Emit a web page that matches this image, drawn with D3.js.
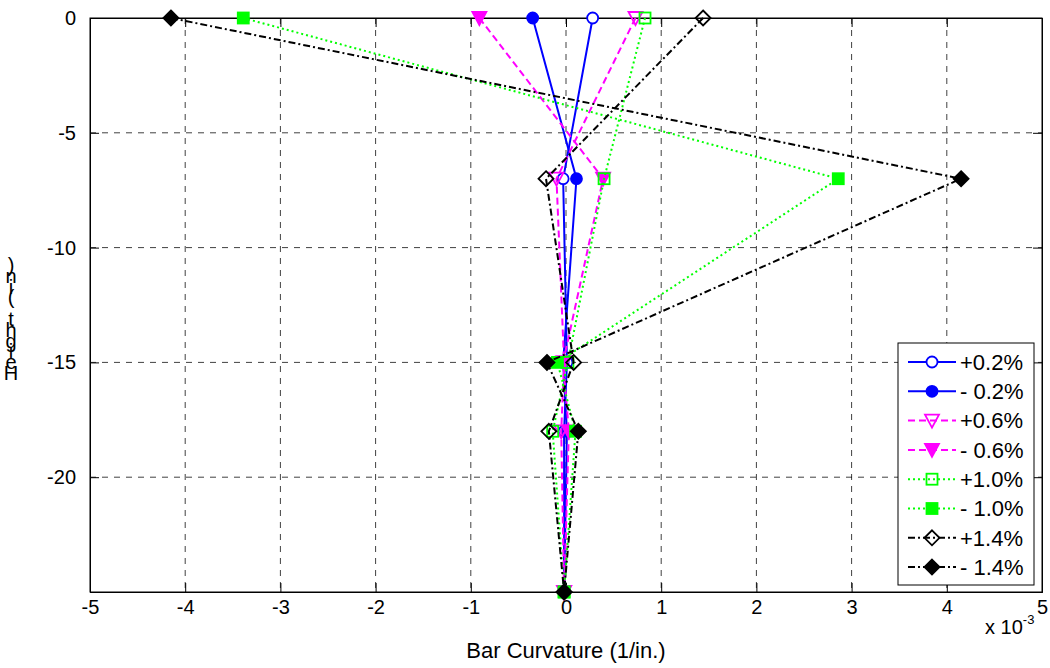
<!DOCTYPE html>
<html><head><meta charset="utf-8">
<script src="https://cdn.jsdelivr.net/npm/d3@7"></script>
<style>body{margin:0;background:#fff;} text{font-family:"Liberation Sans",Arial,sans-serif;}</style>
</head><body>
<svg id="chart" width="1050" height="668"></svg>
<script>
const depths = [0, -7, -15, -18, -25];
const seriesNames = ["+0.2%", "- 0.2%", "+0.6%", "- 0.6%", "+1.0%", "- 1.0%", "+1.4%", "- 1.4%"];
const pos02 = [0.28, -0.03, 0.01, -0.02, -0.02];
const neg02 = [-0.35, 0.11, -0.03, 0.01, -0.02];
const pos06 = [0.73, -0.10, -0.02, -0.05, -0.02];
const neg06 = [-0.91, 0.39, -0.03, 0.03, -0.02];
const pos10 = [0.83, 0.40, 0.02, -0.14, -0.02];
const neg10 = [-3.39, 2.86, -0.09, 0.10, -0.02];
const pos14 = [1.44, -0.21, 0.08, -0.18, -0.02];
const neg14 = [-4.15, 4.15, -0.20, 0.13, -0.02];
const xTicks = [-5, -4, -3, -2, -1, 0, 1, 2, 3, 4, 5];
const yTicks = [0, -5, -10, -15, -20];
const yLabelText = "Height (in)";
const xLabelText = "Bar Curvature (1/in.)";

const values = [pos02, neg02, pos06, neg06, pos10, neg10, pos14, neg14];
const styles = [
  {color:"#0000ff", dash:null, marker:"circle", fill:false},
  {color:"#0000ff", dash:null, marker:"circle", fill:true},
  {color:"#ff00ff", dash:"7,4", marker:"tri", fill:false},
  {color:"#ff00ff", dash:"7,4", marker:"tri", fill:true},
  {color:"#00ff00", dash:"2,3", marker:"square", fill:false},
  {color:"#00ff00", dash:"2,3", marker:"square", fill:true},
  {color:"#000000", dash:"7,3,2,3", marker:"diamond", fill:false},
  {color:"#000000", dash:"7,3,2,3", marker:"diamond", fill:true}
];

const FS = 20, FS2 = 22;
const svg = d3.select("#chart");
const L = 90, R = 1042, T = 18, B = 592;
const x = d3.scaleLinear().domain([-5, 5]).range([L, R]);
const y = d3.scaleLinear().domain([-25, 0]).range([B, T]);

// grid
const g = svg.append("g");
g.selectAll(".vg").data(xTicks.slice(1, -1)).enter().append("line")
  .attr("x1", d => x(d)).attr("x2", d => x(d)).attr("y1", T).attr("y2", B)
  .attr("stroke", "#000").attr("stroke-opacity", 0.75).attr("stroke-width", 1).attr("stroke-dasharray", "6,6");
g.selectAll(".hg").data(yTicks.slice(1)).enter().append("line")
  .attr("x1", L).attr("x2", R).attr("y1", d => y(d)).attr("y2", d => y(d))
  .attr("stroke", "#000").attr("stroke-opacity", 0.75).attr("stroke-width", 1).attr("stroke-dasharray", "6,6");

// axes
const fmt = d => String(d);
const xa = svg.append("g").attr("transform", `translate(0,${B})`)
  .call(d3.axisBottom(x).tickValues(xTicks).tickSize(-9).tickPadding(8).tickFormat(fmt));
const xt = svg.append("g").attr("transform", `translate(0,${T})`)
  .call(d3.axisTop(x).tickValues(xTicks).tickSize(-9).tickFormat(""));
const ya = svg.append("g").attr("transform", `translate(${L},0)`)
  .call(d3.axisLeft(y).tickValues(yTicks).tickSize(-9).tickPadding(14).tickFormat(fmt));
const yr = svg.append("g").attr("transform", `translate(${R},0)`)
  .call(d3.axisRight(y).tickValues(yTicks).tickSize(-9).tickFormat(""));
[xa, xt, ya, yr].forEach(a => {
  a.selectAll("path").attr("stroke", "#000").attr("stroke-width", 1);
  a.selectAll("line").attr("stroke", "#000");
  a.selectAll("text").attr("font-size", FS).attr("fill", "#000").attr("font-family", "Liberation Sans, Arial, sans-serif");
});
xa.selectAll("text").attr("dy", "0.71em");
svg.append("rect").attr("x", L).attr("y", T).attr("width", R - L).attr("height", B - T)
  .attr("fill", "none").attr("stroke", "#000").attr("stroke-width", 1);

function drawMarker(sel, st, cx, cy) {
  const fill = st.fill ? st.color : "none";
  if (st.marker === "circle") {
    sel.append("circle").attr("cx", cx).attr("cy", cy).attr("r", 5.5)
      .attr("fill", st.fill ? st.color : "#fff").attr("stroke", st.color).attr("stroke-width", 1.8);
  } else if (st.marker === "tri") {
    sel.append("path").attr("d", `M${cx-7},${cy-6}L${cx+7},${cy-6}L${cx},${cy+7}Z`)
      .attr("fill", fill).attr("stroke", st.color).attr("stroke-width", 1.8);
  } else if (st.marker === "square") {
    sel.append("rect").attr("x", cx - 5.5).attr("y", cy - 5.5).attr("width", 11).attr("height", 11)
      .attr("fill", fill).attr("stroke", st.color).attr("stroke-width", 1.8);
  } else {
    sel.append("path").attr("d", `M${cx},${cy-7.5}L${cx+7.5},${cy}L${cx},${cy+7.5}L${cx-7.5},${cy}Z`)
      .attr("fill", fill).attr("stroke", st.color).attr("stroke-width", 1.8);
  }
}

const line = d3.line().x(d => x(d[0])).y(d => y(d[1]));
values.forEach((vals, i) => {
  const st = styles[i];
  const pts = vals.map((v, j) => [v, depths[j]]);
  const gs = svg.append("g");
  gs.append("path").attr("d", line(pts)).attr("fill", "none").attr("stroke", st.color)
    .attr("stroke-width", 2).attr("stroke-dasharray", st.dash);
  pts.forEach(p => drawMarker(gs, st, x(p[0]), y(p[1])));
});

// legend
const lg = svg.append("g");
const lx = 898, ly = 343, lw = 136, lh = 242;
lg.append("rect").attr("x", lx).attr("y", ly).attr("width", lw).attr("height", lh)
  .attr("fill", "#fff").attr("stroke", "#000").attr("stroke-width", 1);
seriesNames.forEach((n, i) => {
  const st = styles[i];
  const cy = ly + 19 + i * 29.3;
  lg.append("line").attr("x1", lx + 10).attr("x2", lx + 58).attr("y1", cy).attr("y2", cy)
    .attr("stroke", st.color).attr("stroke-width", 2).attr("stroke-dasharray", st.dash);
  drawMarker(lg, st, lx + 34, cy);
  lg.append("text").attr("x", lx + 62).attr("y", cy).attr("dy", "0.35em")
    .attr("font-size", FS2).attr("fill", "#000").text(n);
});

// x label
svg.append("text").attr("x", x(0)).attr("y", 658).attr("text-anchor", "middle")
  .attr("font-size", FS2).attr("fill", "#000").text(xLabelText);
const sc = svg.append("text").attr("x", 985).attr("y", 634).attr("font-size", FS).attr("fill", "#000");
sc.append("tspan").text("x 10");
sc.append("tspan").attr("dy", -10).attr("font-size", 13).text("-3");

// y label: characters stacked (as in reference)
const chars = yLabelText.split("");
const yl = svg.append("g");
chars.forEach((c, i) => {
  yl.append("text").attr("x", 11).attr("y", 380 - i * 10.8).attr("text-anchor", "middle")
    .attr("font-size", FS).attr("fill", "#000").text(c);
});
</script>
</body></html>
